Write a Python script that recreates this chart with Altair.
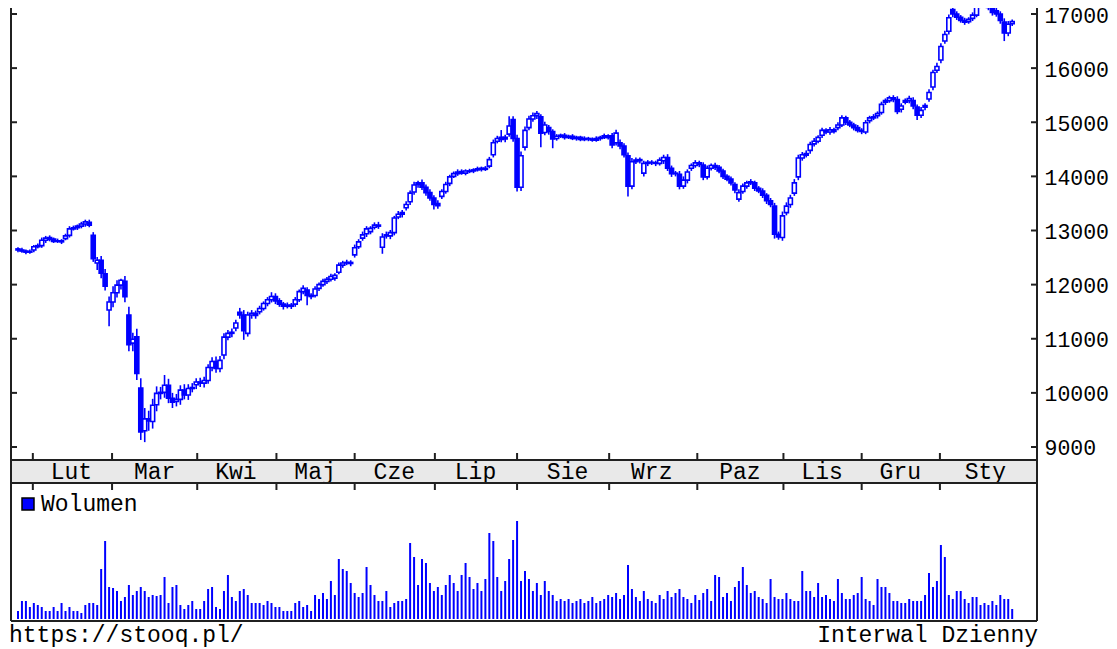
import altair as alt
import pandas as pd

# ---------------- data ----------------
opens = [
    12660, 12640, 12620, 12600, 12640, 12700, 12720, 12820, 12870, 12840,
    12800, 12810, 12850, 12910, 13030, 13050, 13080, 13120, 13150, 12910,
    12400, 12450, 12200, 11530, 11680, 11850, 11990, 12060, 11440, 10920,
    11035, 10090, 9300, 9520, 9470, 9780, 9990, 10010, 10140, 9900,
    9840, 9880, 10050, 9960, 10080, 10150, 10200, 10180, 10230, 10470,
    10580, 10450, 10700, 11030, 11100, 11200, 11490, 11440, 11100, 11440,
    11470, 11500, 11560, 11650, 11720, 11780, 11700, 11640, 11600, 11620,
    11640, 11720, 11870, 11900, 11800, 11800, 11930, 12000, 12060, 12100,
    12120, 12230, 12360, 12400, 12410, 12550, 12700, 12860, 12940, 12980,
    13060, 13100, 12690, 12920, 12900, 12960, 13250, 13300, 13420, 13530,
    13710, 13850, 13880, 13800, 13700, 13600, 13500, 13630, 13720, 13870,
    14000, 14050, 14090, 14060, 14100, 14100, 14120, 14150, 14130, 14190,
    14400, 14650, 14720, 14690, 14780, 15050, 14700, 13800, 14540, 14900,
    15060, 15120, 15100, 14810, 14900, 14830, 14700, 14740, 14760, 14720,
    14740, 14700, 14720, 14680, 14700, 14690, 14670, 14700, 14720, 14750,
    14750, 14620, 14620, 14560, 14380, 13820, 14270, 14310, 14060, 14240,
    14260, 14250, 14240, 14290, 14350, 14150, 14050, 14040, 13820, 13930,
    14150, 14200, 14250, 14210, 13990, 14150, 14200, 14170, 14100, 14000,
    13950, 13850, 13580, 13720, 13820, 13880, 13880, 13780, 13730, 13650,
    13550, 13450, 12930, 12870, 13330, 13480, 13690, 13990, 14340, 14420,
    14480, 14600, 14650, 14760, 14850, 14820, 14860, 14900, 14950, 15080,
    15000, 14950, 14900, 14850, 14820, 15030, 15080, 15120, 15180, 15370,
    15400, 15450, 15420, 15240, 15370, 15400, 15400, 15280, 15130, 15280,
    15430, 15650, 15960, 16150, 16500, 16680, 17080, 17000, 16940, 16880,
    16860, 16920, 16980, 17160, 17200, 17180, 17150, 17060, 17000, 16850,
    16650, 16820,
]
closes = [
    12640, 12620, 12600, 12610, 12700, 12720, 12820, 12860, 12840, 12800,
    12810, 12790, 12900, 13030, 13050, 13080, 13120, 13160, 13100, 12480,
    12450, 12210, 11970, 11680, 11850, 11990, 12080, 11775, 10890, 10990,
    10360, 9280, 9520, 9480, 9770, 9990, 10010, 10140, 9900, 9830,
    9880, 10050, 9960, 10080, 10100, 10200, 10180, 10230, 10470, 10580,
    10450, 10600, 11030, 11100, 11120, 11290, 11440, 11150, 11440, 11470,
    11430, 11560, 11650, 11720, 11780, 11700, 11640, 11600, 11620, 11600,
    11720, 11870, 11930, 11800, 11780, 11920, 12000, 12060, 12100, 12150,
    12170, 12360, 12400, 12410, 12390, 12680, 12790, 12920, 13030, 13040,
    13100, 13080, 12880, 12900, 12960, 13230, 13300, 13330, 13480, 13690,
    13840, 13880, 13800, 13700, 13600, 13480, 13460, 13720, 13850, 13990,
    14050, 14080, 14060, 14100, 14090, 14120, 14140, 14130, 14150, 14310,
    14620, 14700, 14680, 14720, 14930, 14700, 13800, 14380, 14850, 15060,
    15120, 15160, 14800, 14950, 14830, 14690, 14740, 14760, 14720, 14740,
    14700, 14720, 14680, 14700, 14690, 14670, 14700, 14720, 14750, 14720,
    14580, 14800, 14560, 14400, 13820, 14270, 14300, 14290, 14240, 14260,
    14250, 14240, 14300, 14350, 14150, 14050, 14060, 13820, 13930, 14080,
    14200, 14250, 14220, 13990, 14150, 14200, 14170, 14100, 14000, 13950,
    13880, 13750, 13700, 13820, 13880, 13900, 13780, 13730, 13650, 13550,
    13480, 12930, 12880, 13270, 13450, 13600, 13880, 14340, 14400, 14390,
    14590, 14650, 14720, 14850, 14820, 14860, 14830, 14950, 15080, 15000,
    14950, 14900, 14850, 14830, 14990, 15080, 15100, 15160, 15330, 15400,
    15450, 15420, 15200, 15300, 15400, 15440, 15300, 15130, 15220, 15310,
    15550, 15920, 16030, 16400, 16620, 16930, 17000, 16940, 16880, 16850,
    16900, 16980, 17160, 17200, 17180, 17120, 17030, 17000, 16880, 16650,
    16810, 16860,
]
# length of the upper / lower shadow beyond the body, in index points
wick_up = [
    30, 40, 30, 40, 30, 40, 50, 40, 40, 30,
    40, 30, 40, 50, 40, 30, 40, 40, 50, 60,
    60, 80, 90, 100, 120, 90, 30, 100, 150, 120,
    150, 180, 200, 150, 120, 130, 100, 190, 120, 100,
    100, 90, 110, 80, 80, 70, 80, 70, 60, 80,
    90, 80, 70, 60, 70, 60, 80, 90, 60, 60,
    50, 50, 40, 50, 80, 60, 50, 40, 50, 40,
    50, 40, 60, 50, 40, 50, 40, 50, 40, 50,
    40, 50, 40, 50, 40, 60, 50, 60, 50, 40,
    50, 60, 70, 60, 50, 40, 60, 50, 60, 50,
    60, 40, 60, 50, 60, 50, 60, 40, 50, 40,
    40, 50, 40, 30, 40, 30, 40, 30, 40, 50,
    60, 50, 136, 50, 180, 60, 70, 80, 70, 60,
    60, 50, 50, 60, 50, 40, 40, 30, 40, 30,
    40, 30, 30, 40, 30, 30, 40, 30, 40, 30,
    50, 60, 60, 50, 60, 70, 50, 40, 50, 40,
    40, 40, 50, 50, 60, 50, 40, 60, 70, 50,
    40, 50, 40, 50, 50, 40, 50, 40, 40, 40,
    50, 40, 60, 50, 40, 50, 40, 40, 50, 40,
    50, 60, 50, 80, 70, 60, 70, 60, 50, 60,
    50, 60, 40, 50, 40, 50, 40, 50, 50, 40,
    40, 40, 50, 40, 50, 40, 50, 40, 50, 40,
    40, 50, 60, 50, 40, 50, 60, 50, 60, 40,
    60, 50, 70, 60, 70, 60, 60, 50, 40, 50,
    40, 50, 60, 50, 40, 50, 40, 60, 50, 70,
    60, 40,
]
wick_dn = [
    40, 30, 40, 30, 40, 30, 40, 50, 40, 30,
    30, 40, 30, 40, 30, 40, 40, 50, 40, 60,
    130, 90, 80, 300, 100, 90, 80, 100, 120, 150,
    120, 150, 210, 180, 130, 120, 110, 100, 90, 110,
    90, 100, 80, 90, 70, 80, 70, 80, 60, 70,
    80, 70, 80, 60, 70, 60, 70, 170, 60, 70,
    60, 50, 40, 50, 50, 60, 50, 60, 40, 50,
    50, 40, 50, 180, 50, 40, 50, 40, 50, 40,
    50, 40, 50, 40, 50, 50, 40, 50, 60, 50,
    40, 50, 120, 50, 60, 50, 40, 60, 50, 60,
    50, 60, 50, 60, 50, 90, 60, 50, 40, 50,
    30, 40, 30, 40, 30, 40, 30, 40, 30, 40,
    50, 40, 50, 60, 50, 60, 80, 70, 60, 50,
    50, 60, 260, 50, 60, 170, 40, 30, 40, 30,
    30, 40, 30, 30, 40, 30, 30, 40, 30, 40,
    60, 50, 60, 50, 190, 60, 40, 50, 60, 50,
    40, 50, 40, 60, 50, 60, 50, 60, 50, 60,
    50, 40, 50, 60, 50, 40, 50, 40, 50, 40,
    50, 60, 50, 40, 50, 40, 50, 40, 50, 60,
    50, 80, 50, 60, 50, 60, 50, 60, 50, 40,
    60, 50, 40, 50, 40, 50, 40, 50, 40, 50,
    40, 50, 40, 50, 40, 50, 40, 50, 40, 50,
    40, 50, 50, 60, 40, 50, 60, 90, 50, 60,
    50, 60, 50, 60, 50, 60, 60, 50, 40, 50,
    40, 50, 40, 50, 40, 50, 60, 50, 60, 150,
    60, 40,
]

volumes = [
    8, 18, 18, 12, 16, 14, 12, 8, 8, 12,
    8, 16, 8, 12, 8, 8, 6, 14, 16, 16,
    14, 50, 78, 32, 31, 28, 18, 22, 34, 24,
    28, 32, 28, 22, 24, 23, 24, 42, 16, 32,
    34, 14, 10, 14, 18, 10, 10, 18, 30, 32,
    12, 10, 28, 44, 22, 18, 28, 30, 24, 16,
    16, 16, 14, 18, 16, 12, 12, 8, 8, 8,
    16, 18, 12, 14, 8, 24, 20, 26, 20, 38,
    24, 60, 50, 48, 36, 26, 22, 26, 52, 34,
    24, 18, 18, 28, 12, 16, 18,
    18, 20, 76, 62, 34, 60, 56, 36, 28, 32,
    24, 34, 44, 36, 28, 44, 56, 42, 30, 36,
    28, 40, 86, 78, 42, 28, 38, 60, 79, 98,
    38, 48, 40, 28, 36, 24, 38, 28, 24, 18,
    20, 18, 20, 16, 18, 20, 16, 18, 22, 16,
    18, 20, 24, 22, 26, 20, 24, 54, 30, 22,
    18, 28, 20, 18, 16, 24, 20, 28, 22, 26,
    30, 22, 20, 16, 24,
    19, 26, 30, 18, 44, 42, 22, 26, 18, 32,
    38, 52, 34, 26, 28, 22, 20, 16, 40, 22,
    20, 20, 26, 20, 18, 18, 48, 28, 28, 22,
    36, 22, 24, 20, 18, 40, 26, 20, 20, 24,
    26, 42, 20, 18, 14, 40, 32, 32, 26, 18,
    18, 16, 16, 20, 18, 18, 18, 24, 46, 32,
    38, 74, 62, 24, 20, 28, 28, 20, 16, 22,
    22, 14, 16, 14, 18, 14, 24, 20, 20, 10,
]

price_ticks = [9000, 10000, 11000, 12000, 13000, 14000, 15000, 16000, 17000]
month_names = ["Lut", "Mar", "Kwi", "Maj", "Cze", "Lip", "Sie", "Wrz", "Paz",
               "Lis", "Gru", "Sty"]
month_mid = [13.5, 34.5, 55, 75, 95, 115.5, 138.75, 160, 182.25, 203, 222.75, 244.25]
month_bounds = [3.75, 23.75, 45.25, 65.25, 85, 105.25, 126, 149.25, 171.5,
                193.25, 213, 232.75]

# ---------------- tables ----------------
n = len(closes)
df = pd.DataFrame({"i": list(range(n)), "open": opens, "close": closes,
                   "up": wick_up, "dn": wick_dn, "volume": volumes})
df["high"] = df[["open", "close"]].max(axis=1) + df["up"]
df["low"] = df[["open", "close"]].min(axis=1) - df["dn"]
df["fill"] = ["#ffffff" if c >= o else "#0000ff" for o, c in zip(opens, closes)]

ticks_df = pd.DataFrame({"p": price_ticks})
months_df = pd.DataFrame({"name": month_names, "m": month_mid})
bounds_df = pd.DataFrame({"b": month_bounds})
one = pd.DataFrame({"k": [0]})

# ---------------- style ----------------
BLUE = "#0000ff"
FRAME = "#202020"
FONT = "Liberation Mono"
FS = 23
W = 1026
H = 613          # whole plot area (price + band + volume)
P_BOTTOM = 452   # price panel bottom / band top
B_BOTTOM = 475   # band bottom / volume top

xs = alt.Scale(domain=[-0.5, 256], nice=False, zero=False)
ps = alt.Scale(domain=[5785.2, 17110.9], nice=False, zero=False)
vs = alt.Scale(domain=[-2, 611], nice=False, zero=False)

band_bg = alt.Chart(one).mark_rect(color="#e9e9e9").encode(
    x=alt.value(0), x2=alt.value(W), y=alt.value(P_BOTTOM), y2=alt.value(B_BOTTOM))

wicks = alt.Chart(df).mark_rule(color=BLUE, strokeWidth=1.6, clip=True).encode(
    x=alt.X("i:Q", scale=xs, axis=None),
    y=alt.Y("low:Q", scale=ps, axis=None),
    y2="high:Q")

bodies = alt.Chart(df).mark_bar(width=4, stroke=BLUE, strokeWidth=1.6, clip=True).encode(
    x=alt.X("i:Q", scale=xs, axis=None),
    y=alt.Y("open:Q", scale=ps, axis=None),
    y2="close:Q",
    fill=alt.Fill("fill:N", scale=None))

vol = alt.Chart(df).mark_bar(width=2, color=BLUE).encode(
    x=alt.X("i:Q", scale=xs, axis=None),
    y=alt.Y("volume:Q", scale=vs, axis=None))

price_axis = alt.Axis(orient="right", values=price_ticks, ticks=False, domain=False,
                      grid=False, title=None, format="d", labelPadding=7,
                      labelOffset=2, labelFont=FONT, labelFontSize=21.5,
                      labelColor="black")

rticks = alt.Chart(ticks_df).mark_rule(color=FRAME, strokeWidth=2).encode(
    y=alt.Y("p:Q", scale=ps, axis=price_axis),
    x=alt.value(W - 6), x2=alt.value(W))
lticks = alt.Chart(ticks_df).mark_rule(color=FRAME, strokeWidth=2).encode(
    y=alt.Y("p:Q", scale=ps, axis=None),
    x=alt.value(0), x2=alt.value(6))

mt_top = alt.Chart(bounds_df).mark_rule(color=FRAME, strokeWidth=2).encode(
    x=alt.X("b:Q", scale=xs, axis=None),
    y=alt.value(P_BOTTOM - 7), y2=alt.value(P_BOTTOM))
mt_bot = alt.Chart(bounds_df).mark_rule(color=FRAME, strokeWidth=2).encode(
    x=alt.X("b:Q", scale=xs, axis=None),
    y=alt.value(B_BOTTOM), y2=alt.value(B_BOTTOM + 7))

mlabels = alt.Chart(months_df).mark_text(font=FONT, fontSize=FS, color="black",
                                         align="center", baseline="alphabetic").encode(
    x=alt.X("m:Q", scale=xs, axis=None),
    y=alt.value(B_BOTTOM - 4),
    text="name:N")

def hline(y):
    return alt.Chart(one).mark_rule(color=FRAME, strokeWidth=2).encode(
        x=alt.value(0), x2=alt.value(W), y=alt.value(y))

def vline(x):
    return alt.Chart(one).mark_rule(color=FRAME, strokeWidth=2).encode(
        x=alt.value(x), y=alt.value(0), y2=alt.value(H))

legend_box = alt.Chart(one).mark_rect(color=BLUE, stroke="black", strokeWidth=1.5).encode(
    x=alt.value(11), x2=alt.value(23), y=alt.value(490), y2=alt.value(502))
legend_txt = alt.Chart(pd.DataFrame({"t": ["Wolumen"]})).mark_text(
    font=FONT, fontSize=FS, color="black", align="left", baseline="alphabetic").encode(
    x=alt.value(30), y=alt.value(503), text="t:N")

foot_l = alt.Chart(pd.DataFrame({"t": ["https://stooq.pl/"]})).mark_text(
    font=FONT, fontSize=FS, color="black", align="left", baseline="alphabetic").encode(
    x=alt.value(-2), y=alt.value(634), text="t:N")
foot_r = alt.Chart(pd.DataFrame({"t": ["Interwal Dzienny"]})).mark_text(
    font=FONT, fontSize=FS, color="black", align="right", baseline="alphabetic").encode(
    x=alt.value(W + 1), y=alt.value(634), text="t:N")

chart = alt.layer(
    band_bg, vol, wicks, bodies, rticks, lticks, mt_top, mt_bot, mlabels,
    hline(P_BOTTOM), hline(B_BOTTOM), hline(H), vline(0), vline(W),
    legend_box, legend_txt, foot_l, foot_r,
).resolve_scale(y="independent").properties(
    width=W, height=H,
    autosize=alt.AutoSizeParams(type="none"),
    padding={"left": 3, "top": 0, "right": 72, "bottom": 35},
).configure_view(stroke=None)

chart.save("out.html", embed_options={"renderer": "svg", "actions": False})
